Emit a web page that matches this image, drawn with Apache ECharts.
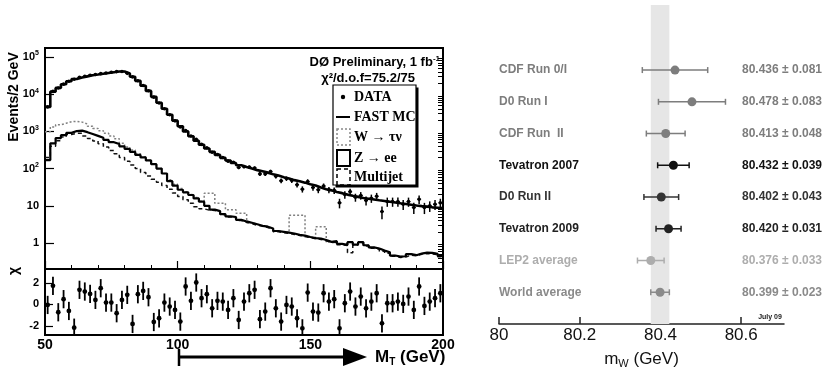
<!DOCTYPE html>
<html>
<head>
<meta charset="utf-8">
<script src="https://cdn.jsdelivr.net/npm/echarts@6/dist/echarts.min.js"></script>
<style>
html, body { margin: 0; padding: 0; background: #fff; }
#main { width: 824px; height: 367px; }
</style>
</head>
<body>
<div id="main"></div>
<script>
// ---- left panel: M_T spectrum, 2 GeV bins from 50 to 200 ----
const massEdges = Array.from({ length: 75 }, (_, i) => 50 + 2 * i);

const fastMC = [4570, 11750, 14790, 18620, 22390, 25700, 28180, 30200, 32360, 33880,
  35480, 37150, 38900, 40740, 40740, 36310, 29510, 22910, 16980, 12300,
  8510, 5890, 4070, 2820, 1950, 1380, 1000, 741, 562, 437,
  347, 282, 234, 195, 166, 141, 123, 110, 100, 91,
  85, 78, 71, 65, 59, 54, 49, 46, 42, 38,
  35, 31, 28, 26, 23.4, 21.9, 20, 18.6, 17.4, 16.2,
  15.5, 14.8, 14.1, 13.5, 12.9, 12.3, 11.7, 11.2, 10.7, 10.2,
  9.8, 9.5, 9.1, 8.9, 8.7];

const wTauNu = [977, 1318, 1514, 1660, 1820, 1862, 1778, 1585, 1380, 1202,
  1047, 891, 759, 631, 479, 380, 316, 251, 204, 166,
  132, 100, 74, 50, 38, 29, 24, 20, 16.6, 13.2,
  21.9, 21.9, 11.7, 11.7, 7.8, 7.8, 6.3, 6.3, 3.5, 3.2,
  2.9, 2.75, 2.45, 2.1, 2.0, 1.9, 5.6, 5.6, 5.6, 1.45,
  1.35, 2.75, 2.75, 1.07, 1.12, 0.95, 0.89, 1.05, 0.91, 1.05,
  0.87, 0.76, 0.71, 0.63, 0.56, 0.46, 0.43, 0.44, 0.5, 0.47,
  0.52, 0.55, 0.54, 0.51, 0.45];

const zee = [170, 479, 661, 794, 912, 1023, 1047, 955, 851, 759,
  676, 589, 513, 457, 398, 339, 282, 234, 200, 166,
  132, 100, 74, 46, 35, 27, 23, 19.5, 15.8, 12.9,
  10, 7.9, 7.2, 6.0, 5.2, 5.0, 4.2, 3.8, 3.5, 3.2,
  2.9, 2.75, 2.45, 2.1, 2.0, 1.9, 1.8, 1.66, 1.58, 1.45,
  1.35, 1.32, 1.2, 1.07, 1.12, 0.95, 0.89, 1.05, 0.91, 1.05,
  0.87, 0.76, 0.71, 0.63, 0.56, 0.46, 0.43, 0.44, 0.5, 0.47,
  0.52, 0.55, 0.54, 0.51, 0.45];

const multijet = [200, 398, 562, 708, 832, 891, 891, 759, 646, 550,
  468, 380, 309, 251, 200, 158, 126, 100, 79, 63,
  52, 43, 35, 28, 22, 17.8, 14.5, 11.7, 9.5, 8.3,
  7.6, 7.5, 6.9, 5.8, 5.0, 4.8, 4.0, 3.6, 3.3, 3.0,
  2.8, 2.6, 2.3, 2.0, 1.9, 1.8, 1.7, 1.6, 1.5, 1.4,
  1.3, 1.25, 1.15, 1.03, 1.05, 0.9, 0.85, 0.55, 0.88, 1.0,
  0.83, 0.72, 0.68, 0.6, 0.53, 0.44, 0.41, 0.42, 0.47, 0.45,
  0.5, 0.52, 0.51, 0.49, 0.43];

const dataCounts = [4568, 11937, 14702, 18688, 22296, 25356, 28412, 30409, 32535, 33961,
  35765, 37187, 38939, 40573, 40823, 36478, 29199, 23053, 17146, 12377,
  8360, 5789, 4085, 2807, 1927, 1321, 1053, 750, 610, 449,
  365, 276, 239, 199, 159, 148, 107, 113, 110, 104,
  72, 72, 84, 62, 47, 54, 48, 37, 28, 45,
  31, 27, 34, 27, 26, 12, 20, 24, 17, 19,
  14, 16, 18, 7, 13, 13, 13, 11, 13, 9,
  15, 9, 10, 11, 12];

const chiValues = [-0.05, 1.73, -0.73, 0.49, -0.61, -2.17, 1.36, 1.2, 0.98, 0.42,
  1.51, 0.17, 0.17, -0.82, 0.42, 0.89, -1.82, 0.95, 1.26, 0.67,
  -1.64, -1.29, 0.17, -0.2, -0.51, -1.6, 1.67, 0.33, 2.04, 0.58,
  0.95, -0.36, 0.33, 0.26, -0.51, 0.58, -1.45, 0.26, 1.04, 1.36,
  -1.38, -0.67, 1.51, -0.36, -1.6, -0.05, -0.2, -1.29, -2.23, 1.1,
  -0.67, -0.76, 1.04, 0.26, 0.49, -2.23, 0.11, 1.2, -0.2, 0.73,
  -0.36, 0.26, 1.04, -1.76, 0.11, 0.11, 0.26, 0.05, 0.73, -0.51,
  1.67, -0.14, 0.26, 0.58, 1.04];
const chiError = 0.85;

const decadeTicks = [1, 10, 100, 1000, 10000, 100000];
const chiTicks = [-2, 0, 2];

// ---- right panel: W mass measurements ----
const measNames = ['CDF Run 0/I', 'D0 Run I', 'CDF Run  II', 'Tevatron 2007',
  'D0 Run II', 'Tevatron 2009', 'LEP2 average', 'World average'];
const measValues = [80.436, 80.478, 80.413, 80.432, 80.402, 80.420, 80.376, 80.399];
const measErrors = [0.081, 0.083, 0.048, 0.039, 0.043, 0.031, 0.033, 0.023];
const measColors = ['#7d7d7d', '#7d7d7d', '#7d7d7d', '#111111',
  '#333333', '#222222', '#adadad', '#8a8a8a'];
const worldBand = [80.376, 80.422];
const mwTicks = [80, 80.2, 80.4, 80.6];

const FONT = '"Liberation Sans", Arial, sans-serif';
const SERIF = '"Liberation Serif", "Times New Roman", serif';

function histPoints(values) {
  const pts = massEdges.map((e, i) => [e, values[i]]);
  pts.push([200, values[values.length - 1]]);
  return pts;
}

const minorDecadeTicks = [];
[0.1, 1, 10, 100, 1000, 10000, 100000].forEach(d => {
  for (let k = 2; k <= 9; k++) {
    const v = k * d;
    if (v > 0.2 && v < 175000) minorDecadeTicks.push(v);
  }
});

function renderDataPoint(params, api) {
  const x = api.value(0), n = api.value(1), s = Math.sqrt(n);
  const p = api.coord([x, n]);
  const top = api.coord([x, n + s]);
  const bot = api.coord([x, Math.max(n - s, 0.2)]);
  return {
    type: 'group',
    children: [
      { type: 'line', shape: { x1: p[0], y1: top[1], x2: p[0], y2: bot[1] }, style: { stroke: '#000', lineWidth: 1.5 } },
      { type: 'line', shape: { x1: p[0] - 2, y1: p[1], x2: p[0] + 2, y2: p[1] }, style: { stroke: '#000', lineWidth: 1.2 } },
      { type: 'circle', shape: { cx: p[0], cy: p[1], r: 1.8 }, style: { fill: '#000' } }
    ]
  };
}

function renderChi(params, api) {
  const x = api.value(0), c = api.value(1);
  const p = api.coord([x, c]);
  const top = api.coord([x, c + chiError]);
  const bot = api.coord([x, c - chiError]);
  return {
    type: 'group',
    children: [
      { type: 'line', shape: { x1: p[0], y1: top[1], x2: p[0], y2: bot[1] }, style: { stroke: '#000', lineWidth: 1.8 } },
      { type: 'circle', shape: { cx: p[0], cy: p[1], r: 2.4 }, style: { fill: '#000' } }
    ]
  };
}

function renderBand(params, api) {
  const lo = api.coord([api.value(0), 0]);
  const hi = api.coord([api.value(1), 0]);
  const cs = params.coordSys;
  return {
    type: 'rect',
    shape: { x: lo[0], y: cs.y, width: hi[0] - lo[0], height: cs.height },
    style: { fill: '#e6e6e6' }
  };
}

function renderMeasurement(params, api) {
  const v = api.value(0), row = api.value(1), e = api.value(2);
  const c = api.coord([v, row]);
  const lo = api.coord([v - e, row]);
  const hi = api.coord([v + e, row]);
  const color = measColors[params.dataIndex];
  const st = { stroke: color, lineWidth: 1.5 };
  return {
    type: 'group',
    children: [
      { type: 'line', shape: { x1: lo[0], y1: c[1], x2: hi[0], y2: c[1] }, style: st },
      { type: 'line', shape: { x1: lo[0], y1: c[1] - 3, x2: lo[0], y2: c[1] + 3 }, style: st },
      { type: 'line', shape: { x1: hi[0], y1: c[1] - 3, x2: hi[0], y2: c[1] + 3 }, style: st },
      { type: 'circle', shape: { cx: c[0], cy: c[1], r: 4.5 }, style: { fill: color } }
    ]
  };
}

const rowRich = {};
measColors.forEach((c, i) => {
  rowRich['r' + i] = { color: c, fontSize: 12, fontWeight: 'bold', fontFamily: FONT };
});

const chart = echarts.init(document.getElementById('main'));
chart.setOption({
  animation: false,
  textStyle: { fontFamily: FONT },
  grid: [
    { left: 45, top: 48, width: 398, height: 221, show: true, borderColor: '#000', borderWidth: 2, backgroundColor: 'transparent', containLabel: false, outerBoundsMode: 'none' },
    { left: 45, top: 269, width: 398, height: 66, show: true, borderColor: '#000', borderWidth: 2, backgroundColor: 'transparent', containLabel: false, outerBoundsMode: 'none' },
    { left: 499, top: 5, width: 285, height: 319, containLabel: false, outerBoundsMode: 'none' }
  ],
  xAxis: [
    {
      type: 'value', gridIndex: 0, min: 50, max: 200, interval: 50,
      axisLine: { show: false, onZero: false }, splitLine: { show: false },
      axisLabel: { show: false },
      axisTick: { show: true, inside: true, length: 8, lineStyle: { color: '#000', width: 1.2 } },
      minorTick: { show: true, splitNumber: 5, length: 4, lineStyle: { color: '#000', width: 1 } }
    },
    {
      type: 'value', gridIndex: 1, min: 50, max: 200, interval: 50,
      axisLine: { show: false, onZero: false }, splitLine: { show: false }, axisTick: { show: false },
      axisLabel: { margin: 3, fontSize: 14, fontWeight: 'bold', color: '#000' }
    },
    {
      type: 'value', gridIndex: 2, min: 80, max: 80.706,
      splitLine: { show: false },
      axisLine: { show: true, onZero: false, lineStyle: { color: '#222', width: 1.5 } },
      axisTick: { show: true, inside: true, length: 7, customValues: mwTicks, lineStyle: { color: '#222', width: 1.5 } },
      axisLabel: {
        customValues: mwTicks, margin: 3, fontSize: 17, color: '#111',
        formatter: v => (v === 80 ? '80' : v.toFixed(1))
      },
      name: '{m|m}{w|W}{m| (GeV)}', nameLocation: 'middle', nameGap: 25,
      nameTextStyle: {
        rich: {
          m: { fontSize: 17, color: '#111', lineHeight: 20, fontFamily: FONT },
          w: { fontSize: 11, color: '#111', lineHeight: 12, verticalAlign: 'bottom', fontFamily: FONT }
        }
      }
    }
  ],
  yAxis: [
    {
      type: 'log', logBase: 10, gridIndex: 0, min: 0.2, max: 175000,
      axisLine: { show: false }, splitLine: { show: false },
      axisTick: { show: true, inside: true, length: 9, customValues: decadeTicks, lineStyle: { color: '#000', width: 1.2 } },
      axisLabel: {
        customValues: decadeTicks, margin: 6,
        formatter: v => {
          const p = Math.round(Math.log10(v));
          if (p === 0) return '{b|1}';
          if (p === 1) return '{b|10}';
          return '{b|10}{s|' + p + '}';
        },
        rich: {
          b: { fontSize: 11, fontWeight: 'bold', color: '#000', lineHeight: 14, fontFamily: FONT },
          s: { fontSize: 7, fontWeight: 'bold', color: '#000', lineHeight: 8, verticalAlign: 'top', fontFamily: FONT }
        }
      }
    },
    {
      type: 'log', logBase: 10, gridIndex: 0, min: 0.2, max: 175000,
      axisLine: { show: false }, splitLine: { show: false }, axisLabel: { show: false },
      axisTick: { show: true, inside: true, length: 5, customValues: minorDecadeTicks, lineStyle: { color: '#000', width: 1 } }
    },
    {
      type: 'value', gridIndex: 1, min: -2.85, max: 3.3,
      axisLine: { show: false, onZero: false }, splitLine: { show: false },
      axisTick: { show: true, inside: true, length: 8, customValues: chiTicks, lineStyle: { color: '#000', width: 1.2 } },
      axisLabel: { customValues: chiTicks, margin: 6, fontSize: 11, fontWeight: 'bold', color: '#000' }
    },
    {
      type: 'value', gridIndex: 2, min: -2.05, max: 8, inverse: true, position: 'left',
      axisLine: { show: false, onZero: false }, splitLine: { show: false }, axisTick: { show: false },
      axisLabel: {
        customValues: [0, 1, 2, 3, 4, 5, 6, 7], inside: true, margin: 0,
        formatter: v => '{r' + v + '|' + measNames[v] + '}', rich: rowRich
      }
    },
    {
      type: 'value', gridIndex: 2, min: -2.05, max: 8, inverse: true, position: 'right',
      axisLine: { show: false, onZero: false }, splitLine: { show: false }, axisTick: { show: false },
      axisLabel: {
        customValues: [0, 1, 2, 3, 4, 5, 6, 7], margin: 38, align: 'right',
        formatter: v => '{r' + v + '|' + measValues[v].toFixed(3) + ' \u00b1 ' + measErrors[v].toFixed(3) + '}',
        rich: rowRich
      }
    }
  ],
  series: [
    {
      name: 'W \u2192 \u03c4\u03bd', type: 'line', xAxisIndex: 0, yAxisIndex: 0, step: 'end',
      symbol: 'none', data: histPoints(wTauNu), z: 2,
      lineStyle: { color: '#808080', width: 1.5, type: [2, 2] }
    },
    {
      name: 'Multijet', type: 'line', xAxisIndex: 0, yAxisIndex: 0, step: 'end',
      symbol: 'none', data: histPoints(multijet), z: 2,
      lineStyle: { color: '#111', width: 1.5, type: [4, 3] }
    },
    {
      name: 'Z \u2192 ee', type: 'line', xAxisIndex: 0, yAxisIndex: 0, step: 'end',
      symbol: 'none', data: histPoints(zee), z: 3,
      lineStyle: { color: '#000', width: 2.2 }
    },
    {
      name: 'FAST MC', type: 'line', xAxisIndex: 0, yAxisIndex: 0, step: 'end',
      symbol: 'none', data: histPoints(fastMC), z: 4,
      lineStyle: { color: '#000', width: 2.6 }
    },
    {
      name: 'DATA', type: 'custom', xAxisIndex: 0, yAxisIndex: 0, z: 5,
      renderItem: renderDataPoint, encode: { x: 0, y: 1 },
      data: dataCounts.map((n, i) => [massEdges[i] + 1, n])
    },
    {
      name: 'chi', type: 'custom', xAxisIndex: 1, yAxisIndex: 2, z: 5, clip: true,
      renderItem: renderChi, encode: { x: 0, y: 1 },
      data: chiValues.map((c, i) => [massEdges[i] + 1, c])
    },
    {
      name: 'band', type: 'custom', xAxisIndex: 2, yAxisIndex: 3, z: 1, silent: true,
      renderItem: renderBand, encode: { x: [0, 1], y: 2 },
      data: [[worldBand[0], worldBand[1], 0]]
    },
    {
      name: 'mW', type: 'custom', xAxisIndex: 2, yAxisIndex: 3, z: 3,
      renderItem: renderMeasurement, encode: { x: 0, y: 1 },
      data: measValues.map((v, i) => [v, i, measErrors[i]])
    }
  ],
  graphic: [
    {
      type: 'text', x: 14, y: 97, rotation: Math.PI / 2, z: 100,
      style: { text: 'Events/2 GeV', font: 'bold 14px ' + FONT, fill: '#000', align: 'center', verticalAlign: 'middle' }
    },
    {
      type: 'text', x: 14, y: 271, rotation: Math.PI / 2, z: 100,
      style: { text: '\u03c7', font: 'bold 14px ' + FONT, fill: '#000', align: 'center', verticalAlign: 'middle' }
    },
    {
      type: 'text', x: 440, y: 62, z: 100,
      style: {
        text: '{a|D\u00d8 Preliminary, 1 fb}{s|-1}', align: 'right', verticalAlign: 'middle',
        rich: {
          a: { font: 'bold 13px ' + FONT, fill: '#000', lineHeight: 15 },
          s: { font: 'bold 8px ' + FONT, fill: '#000', lineHeight: 9, verticalAlign: 'top' }
        }
      }
    },
    {
      type: 'text', x: 415, y: 78, z: 100,
      style: { text: '\u03c7\u00b2/d.o.f=75.2/75', font: 'bold 13px ' + FONT, fill: '#000', align: 'right', verticalAlign: 'middle' }
    },
    // legend box with ROOT-style shadow
    { type: 'rect', z: 100, shape: { x: 335.5, y: 87.5, width: 83, height: 100 }, style: { fill: '#000' } },
    { type: 'rect', z: 101, shape: { x: 333, y: 85, width: 83, height: 100 }, style: { fill: '#fff', stroke: '#000', lineWidth: 1.2 } },
    { type: 'circle', z: 102, shape: { cx: 343, cy: 97, r: 2.2 }, style: { fill: '#000' } },
    { type: 'line', z: 102, shape: { x1: 336, y1: 117, x2: 350, y2: 117 }, style: { stroke: '#000', lineWidth: 2 } },
    { type: 'rect', z: 102, shape: { x: 337, y: 129, width: 13, height: 16 }, style: { fill: 'none', stroke: '#888', lineWidth: 1.5, lineDash: [2, 2] } },
    { type: 'rect', z: 102, shape: { x: 337, y: 150, width: 13, height: 16 }, style: { fill: 'none', stroke: '#000', lineWidth: 2 } },
    { type: 'rect', z: 102, shape: { x: 337, y: 169, width: 13, height: 16 }, style: { fill: 'none', stroke: '#000', lineWidth: 1.5, lineDash: [4, 3] } },
    { type: 'text', z: 102, x: 354, y: 97, style: { text: 'DATA', font: 'bold 14px ' + SERIF, fill: '#000', verticalAlign: 'middle' } },
    { type: 'text', z: 102, x: 354, y: 117, style: { text: 'FAST MC', font: 'bold 14px ' + SERIF, fill: '#000', verticalAlign: 'middle' } },
    { type: 'text', z: 102, x: 354, y: 137, style: { text: 'W \u2192 \u03c4\u03bd', font: 'bold 14px ' + SERIF, fill: '#000', verticalAlign: 'middle' } },
    { type: 'text', z: 102, x: 354, y: 158, style: { text: 'Z \u2192 ee', font: 'bold 14px ' + SERIF, fill: '#000', verticalAlign: 'middle' } },
    { type: 'text', z: 102, x: 354, y: 177, style: { text: 'Multijet', font: 'bold 14px ' + SERIF, fill: '#000', verticalAlign: 'middle' } },
    // M_T arrow
    { type: 'line', z: 100, shape: { x1: 179, y1: 349, x2: 179, y2: 366 }, style: { stroke: '#000', lineWidth: 2.5 } },
    { type: 'line', z: 100, shape: { x1: 179, y1: 357, x2: 350, y2: 357 }, style: { stroke: '#000', lineWidth: 3 } },
    { type: 'polygon', z: 100, shape: { points: [[343, 348], [367, 357], [343, 366]] }, style: { fill: '#000' } },
    {
      type: 'text', x: 375, y: 357, z: 100,
      style: {
        text: '{m|M}{t|T}{m| (GeV)}', verticalAlign: 'middle',
        rich: {
          m: { font: 'bold 17px ' + FONT, fill: '#000', lineHeight: 20 },
          t: { font: 'bold 10px ' + FONT, fill: '#000', lineHeight: 11, verticalAlign: 'bottom' }
        }
      }
    },
    {
      type: 'text', x: 770, y: 317, z: 100,
      style: { text: 'July 09', font: 'bold 7px ' + FONT, fill: '#222', align: 'center', verticalAlign: 'middle' }
    }
  ]
});
</script>
</body>
</html>
